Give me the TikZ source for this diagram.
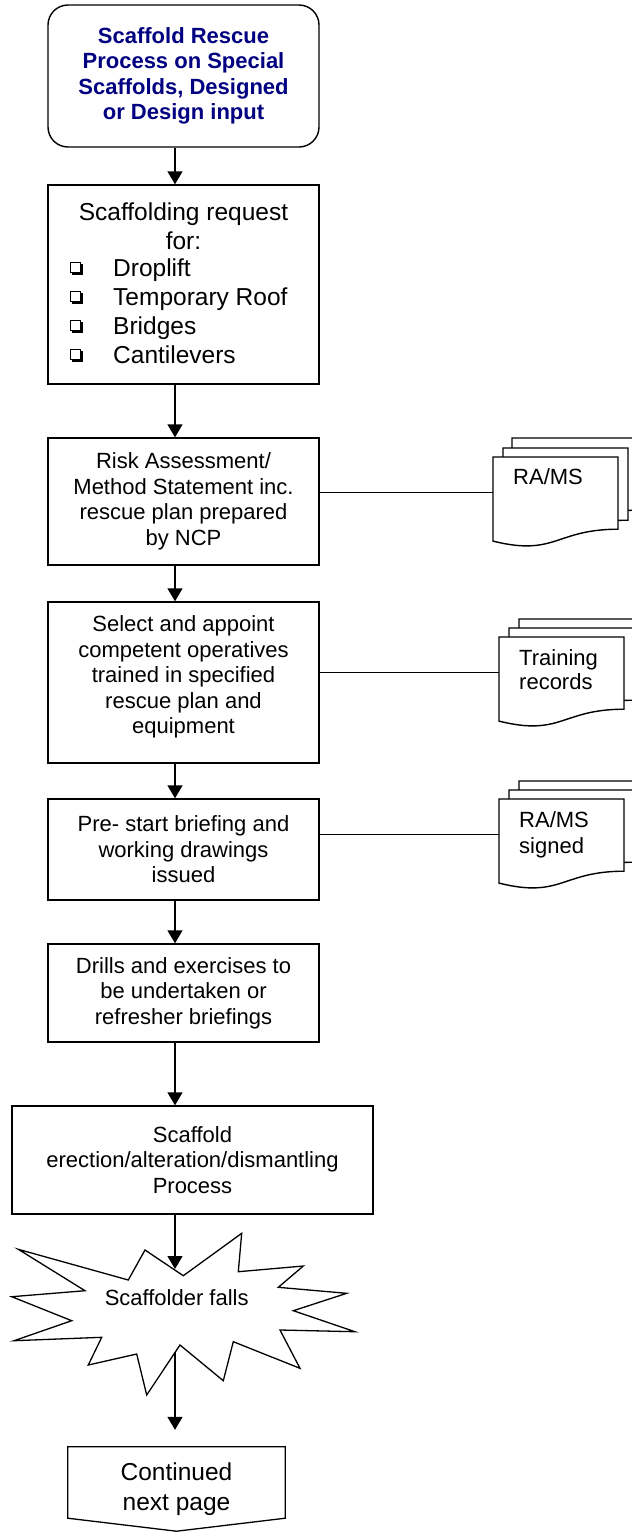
\documentclass[tikz,border=0pt]{standalone}
\usepackage{fontspec}
\setmainfont{Liberation Sans}
\usetikzlibrary{arrows.meta,shadows,calc}
\definecolor{titleblue}{RGB}{0,0,128}

\tikzset{
  flow/.style={line width=1.3pt},
  box/.style={draw, line width=1.4pt, rectangle, minimum width=271pt, align=center,
    inner sep=0pt, font=\fontsize{22}{25.5}\selectfont},
  boxtext/.style={align=center, inner sep=0pt, font=\fontsize{22}{25.5}\selectfont},
  arr/.style={line width=1.4pt, -{Triangle[length=13pt,width=15pt]}},
  link/.style={line width=1.3pt},
  docline/.style={line width=1.4pt, fill=white},
  docarea/.style={minimum width=125pt, minimum height=70pt, inner sep=0pt, anchor=north west},
  doctext/.style={font=\fontsize{22}{24}\selectfont, align=left, inner sep=0pt, anchor=west},
  chkbox/.style={draw, line width=0.8pt, fill=white, minimum size=10.5pt, inner sep=0pt,
    general shadow={shadow xshift=1.8pt, shadow yshift=-1.8pt, fill=black}},
  item/.style={font=\fontsize{24.5}{29}\selectfont, inner sep=0pt, anchor=base west},
}

% one sheet of a document stack: top-left corner at (#1,#2), wavy lower edge
\newcommand\docpage[2]{%
  \draw[docline] (#1,#2) -- ({#1+125},#2) -- ({#1+125},{#2+72.2})
    .. controls ({#1+62.5},{#2+72.2}) and ({#1+62.5},{#2+99.7}) .. (#1,{#2+84.1}) -- cycle;}

\begin{document}
\begin{tikzpicture}[x=1pt,y=-1pt]
\useasboundingbox (0,0) rectangle (632,1532);
\clip (0,0) rectangle (632,1532);

\coordinate (axis) at (175,0);

% main column
\node[box, rounded corners=20pt, minimum height=142pt, text=titleblue,
      font=\bfseries\fontsize{22}{25.3}\selectfont] (title) at (183.5,76)
  {Scaffold Rescue\\Process on Special\\Scaffolds, Designed\\or Design input};

\node[box, minimum height=199pt] (req) at (183.5,284.5) {};
\node[boxtext, font=\fontsize{24.5}{29}\selectfont] (reqhead) at (183.5,226.5)
  {Scaffolding request\\for:};
\node[chkbox] (c1) at (75.5,267.5) {};
\node[chkbox] (c2) at (75.5,296.5) {};
\node[chkbox] (c3) at (75.5,325.5) {};
\node[chkbox] (c4) at (75.5,354.5) {};
\node[item] (i1) at (113,276.8) {Droplift};
\node[item] (i2) at (113,305.8) {Temporary Roof};
\node[item] (i3) at (113,334.8) {Bridges};
\node[item] (i4) at (113,363.8) {Cantilevers};

\node[box, minimum height=127pt] (ra) at (183.5,501.5)
  {Risk Assessment/\\Method Statement inc.\\rescue plan prepared\\by NCP};

\node[box, minimum height=161pt] (sel) at (183.5,682.5) {};
\node[boxtext] (seltxt) at (183.5,677)
  {Select and appoint\\competent operatives\\trained in specified\\rescue plan and\\equipment};

\node[box, minimum height=101pt] (pre) at (183.5,849.5)
  {Pre- start briefing and\\working drawings\\issued};

\node[box, minimum height=98pt] (drill) at (183.5,993)
  {Drills and exercises to\\be undertaken or\\refresher briefings};

\node[box, minimum width=361pt, minimum height=108pt] (erect) at (192.5,1160)
  {Scaffold\\erection/alteration/dismantling\\Process};

% burst
\draw[flow, fill=white] (183.3,1275.7) -- (241.7,1233.3) -- (238.3,1271.7) -- (303.3,1266)
  -- (278.3,1287.3) -- (346.7,1293.3) -- (293.3,1310.7) -- (355,1331.7) -- (280,1330)
  -- (300,1368.3) -- (233.3,1341.7) -- (223.3,1380.7) -- (180,1345) -- (146.7,1395)
  -- (136.7,1354) -- (88.3,1365) -- (101.7,1337.3) -- (14,1340.7) -- (71.7,1320.7)
  -- (11.7,1296.7) -- (85,1290.7) -- (18.3,1249.3) -- (128.3,1280) -- (145,1250) -- cycle;
\node[boxtext] (fall) at (176.7,1298) {Scaffolder falls};
\coordinate (fallin) at (175,1269);
\coordinate (fallout) at (175,1352);

% off-page connector
\node[minimum width=217pt, minimum height=71pt, inner sep=0pt] (cont) at (176.5,1482.5) {};
\draw[flow] (cont.north west) -- (cont.north east) -- (cont.south east)
  -- ($(cont.south)+(0,13)$) -- (cont.south west) -- cycle;
\node[boxtext, font=\fontsize{24.5}{30}\selectfont] (conttxt) at (176.5,1489)
  {Continued\\next page};

% document stacks
\docpage{512}{438}\docpage{503}{448}\docpage{493}{457}
\node[docarea] (ramsdoc) at (493,457) {};
\node[doctext] (ramstxt) at (513,477) {RA/MS};

\docpage{519}{619}\docpage{509}{628}\docpage{499}{637}
\node[docarea] (trdoc) at (499,637) {};
\node[doctext] (trtxt) at (519,670) {Training\\records};

\docpage{519}{781}\docpage{509}{790}\docpage{499}{799}
\node[docarea] (sgdoc) at (499,799) {};
\node[doctext, font=\fontsize{22}{26}\selectfont] (sgtxt) at (519,834.3) {RA/MS\\signed};

% connectors
\draw[arr] (title.south -| axis) -- (req.north -| axis);
\draw[arr] (req.south -| axis) -- (ra.north -| axis);
\draw[arr] (ra.south -| axis) -- (sel.north -| axis);
\draw[arr] (sel.south -| axis) -- (pre.north -| axis);
\draw[arr] (pre.south -| axis) -- (drill.north -| axis);
\draw[arr] (drill.south -| axis) -- (erect.north -| axis);
\draw[arr] (erect.south -| axis) -- (fallin);
\draw[arr, shorten >=17pt] (fallout) -- (cont.north -| axis);

\draw[link] (ra.east |- ramsdoc.west) -- (ramsdoc.west);
\draw[link] (sel.east |- trdoc.west) -- (trdoc.west);
\draw[link] (pre.east |- sgdoc.west) -- (sgdoc.west);
\end{tikzpicture}
\end{document}
